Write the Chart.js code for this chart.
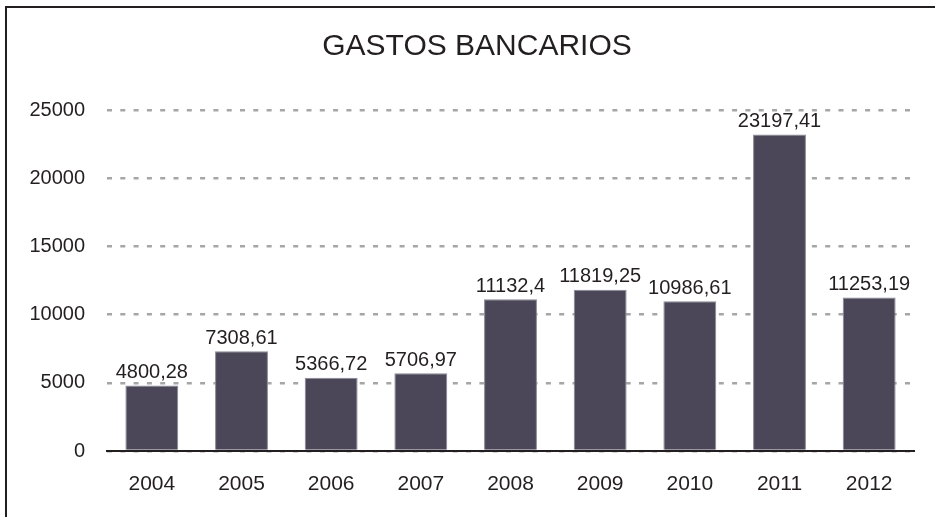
<!DOCTYPE html>
<html>
<head>
<meta charset="utf-8">
<script src="https://cdn.jsdelivr.net/npm/chart.js@4.4.0/dist/chart.umd.min.js"></script>
<style>
    html, body { margin: 0; padding: 0; background: #fff; }
    #wrap { position: relative; width: 935px; height: 517px; overflow: hidden; }
    #frame {
        position: absolute; left: 5px; top: 6px; width: 1000px; height: 600px;
        border-left: 2px solid #231f20; border-top: 2px solid #231f20;
    }
    #box { position: absolute; left: 0; top: 0; width: 935px; height: 517px; }
</style>
</head>
<body>
<div id="wrap">
    <div id="frame"></div>
    <div id="box"><canvas id="gastosChart"></canvas></div>
</div>
<script>
const years = ["2004", "2005", "2006", "2007", "2008", "2009", "2010", "2011", "2012"];
const gastos = [4800.28, 7308.61, 5366.72, 5706.97, 11132.4, 11819.25, 10986.61, 23197.41, 11253.19];
const yTicks = [0, 5000, 10000, 15000, 20000, 25000];
const titulo = "GASTOS BANCARIOS";

const FONT = "'Liberation Sans', Arial, sans-serif";

// titulo centrado sobre el marco, no sobre el area del grafico
const titlePlugin = {
    id: "titlePlugin",
    afterDraw(chart) {
        const ctx = chart.ctx;
        ctx.save();
        ctx.font = "30px " + FONT;
        ctx.fillStyle = "#231f20";
        ctx.textAlign = "center";
        ctx.textBaseline = "middle";
        ctx.fillText(titulo, 477, 47);
        ctx.restore();
    }
};

// etiquetas con coma decimal encima de cada barra
const valueLabels = {
    id: "valueLabels",
    afterDatasetsDraw(chart) {
        const ctx = chart.ctx;
        const meta = chart.getDatasetMeta(0);
        ctx.save();
        ctx.font = "20px " + FONT;
        ctx.fillStyle = "#231f20";
        ctx.textAlign = "center";
        ctx.textBaseline = "bottom";
        meta.data.forEach((bar, i) => {
            const txt = String(gastos[i]).replace(".", ",");
            ctx.fillText(txt, bar.x, bar.y - 3);
        });
        ctx.restore();
    }
};

new Chart(document.getElementById("gastosChart"), {
    type: "bar",
    data: {
        labels: years,
        datasets: [{
            data: gastos,
            backgroundColor: "#4b4759",
            borderColor: "#8a8798",
            borderWidth: 1,
            borderSkipped: "bottom",
            categoryPercentage: 1,
            barPercentage: 0.59
        }]
    },
    options: {
        responsive: true,
        maintainAspectRatio: false,
        animation: false,
        layout: { padding: { left: 0, right: 21, top: 110, bottom: 0 } },
        plugins: {
            legend: { display: false },
            tooltip: { enabled: false },
            title: { display: false }
        },
        scales: {
            x: {
                grid: { display: false },
                border: { display: true, color: "#231f20", width: 2 },
                ticks: { color: "#231f20", font: { family: FONT, size: 21 }, padding: 13 },
                afterFit: s => { s.height = 66; }
            },
            y: {
                min: 0,
                max: 25000,
                afterBuildTicks: s => { s.ticks = yTicks.map(v => ({ value: v })); },
                grid: { color: "#a6a6a6", lineWidth: 2.5, drawTicks: false },
                border: { display: false, dash: [5, 8.3] },
                ticks: {
                    color: "#231f20",
                    font: { family: FONT, size: 20 },
                    padding: 22,
                    callback: v => String(v)
                },
                afterFit: s => { s.width = 107; }
            }
        }
    },
    plugins: [valueLabels, titlePlugin]
});
</script>
</body>
</html>
